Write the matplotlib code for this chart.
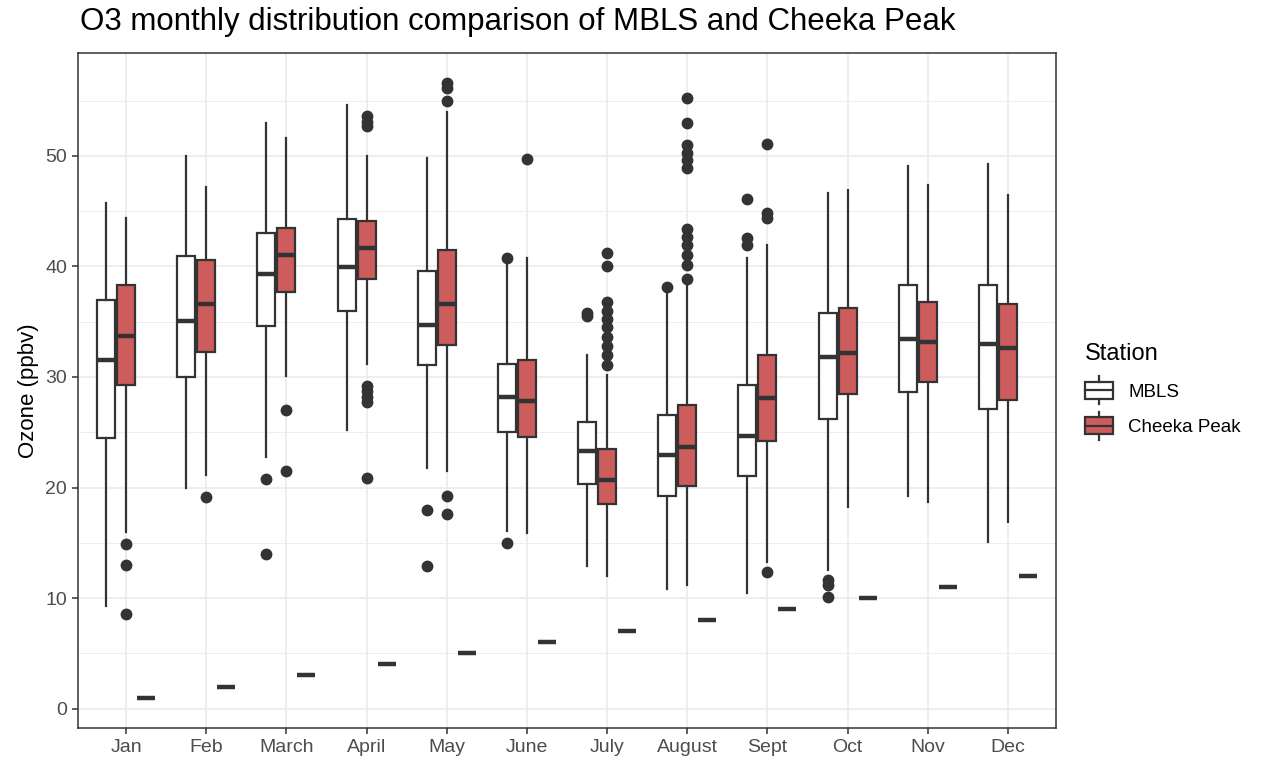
import matplotlib
matplotlib.use("Agg")
import matplotlib.pyplot as plt
from matplotlib.patches import Rectangle
from matplotlib.lines import Line2D
from matplotlib.legend_handler import HandlerBase

plt.rcParams['font.family'] = ['Liberation Sans', 'DejaVu Sans']

months = ["Jan", "Feb", "March", "April", "May", "June", "July", "August",
          "Sept", "Oct", "Nov", "Dec"]

# MBLS box stats
mbls_lo = [9.3, 20.0, 22.8, 25.2, 21.8, 16.1, 12.9, 10.8, 10.5, 12.5, 19.2, 15.1]
mbls_q1 = [24.5, 30.0, 34.6, 36.0, 31.1, 25.0, 20.3, 19.2, 21.0, 26.2, 28.6, 27.1]
mbls_med = [31.5, 35.1, 39.3, 39.9, 34.7, 28.2, 23.3, 22.9, 24.7, 31.8, 33.4, 33.0]
mbls_q3 = [37.0, 40.9, 43.0, 44.3, 39.6, 31.2, 25.9, 26.6, 29.3, 35.8, 38.3, 38.3]
mbls_hi = [45.7, 50.0, 53.0, 54.6, 49.8, 40.3, 32.0, 37.7, 40.8, 46.6, 49.1, 49.3]
mbls_out = [[], [], [20.8, 14.0], [], [18.0, 12.9], [40.8, 15.0], [35.8, 35.5],
            [38.1], [46.1, 42.6, 41.9], [11.6, 11.2, 10.1], [], []]

# Cheeka Peak box stats
chk_lo = [16.0, 21.1, 30.1, 31.2, 21.5, 15.9, 12.0, 11.2, 13.3, 18.2, 18.7, 16.9]
chk_q1 = [29.3, 32.3, 37.7, 38.9, 32.9, 24.6, 18.5, 20.1, 24.2, 28.5, 29.5, 27.9]
chk_med = [33.7, 36.6, 41.0, 41.7, 36.6, 27.8, 20.7, 23.7, 28.1, 32.2, 33.2, 32.6]
chk_q3 = [38.3, 40.6, 43.5, 44.1, 41.5, 31.5, 23.5, 27.5, 32.0, 36.2, 36.8, 36.6]
chk_hi = [44.4, 47.2, 51.6, 50.0, 54.0, 40.8, 30.2, 38.6, 41.9, 46.9, 47.4, 46.5]
chk_out = [[14.9, 13.0, 8.6], [19.1], [27.0, 21.5],
           [53.6, 53.1, 52.7, 29.2, 28.7, 28.2, 27.7, 20.9],
           [56.6, 56.1, 55.0, 19.2, 17.6], [49.7],
           [41.2, 40.0, 36.8, 36.0, 35.2, 34.5, 33.6, 32.8, 32.0, 31.1],
           [55.2, 53.0, 51.0, 50.3, 49.6, 48.9, 43.4, 42.7, 41.9, 41.0, 40.1, 38.9],
           [51.1, 44.8, 44.4, 12.4], [], [], []]

# month number column that got plotted as a third group
month_num = [1, 2, 3, 4, 5, 6, 7, 8, 9, 10, 11, 12]

LINE = "#333333"
RED = "#CD5C5C"


def stats(lo, q1, med, q3, hi, out):
    return [dict(whislo=a, q1=b, med=c, q3=d, whishi=e, fliers=f)
            for a, b, c, d, e, f in zip(lo, q1, med, q3, hi, out)]


fig = plt.figure(figsize=(12.61, 7.61), dpi=100)
ax = fig.add_axes([78 / 1261, 1 - 728 / 761, (1056 - 78) / 1261, (728 - 53) / 761])

x = list(range(1, 13))
w = 0.225
common = dict(widths=w, patch_artist=True, manage_ticks=False,
              whiskerprops=dict(color=LINE, lw=1.6),
              capprops=dict(visible=False),
              medianprops=dict(color=LINE, lw=3.2, solid_capstyle="butt"),
              flierprops=dict(marker="o", markerfacecolor=LINE, markeredgecolor=LINE,
                              markersize=7.5, linestyle="none"))

ax.bxp(stats(mbls_lo, mbls_q1, mbls_med, mbls_q3, mbls_hi, mbls_out),
       positions=[p - 0.25 for p in x],
       boxprops=dict(facecolor="white", edgecolor=LINE, lw=1.6), **common)
ax.bxp(stats(chk_lo, chk_q1, chk_med, chk_q3, chk_hi, chk_out),
       positions=x,
       boxprops=dict(facecolor=RED, edgecolor=LINE, lw=1.6), **common)
ax.bxp(stats(month_num, month_num, month_num, month_num, month_num,
             [[] for _ in month_num]),
       positions=[p + 0.25 for p in x],
       boxprops=dict(facecolor="grey", edgecolor=LINE, lw=1.6), **common)

ax.set_xlim(0.4, 12.6)
ax.set_ylim(-1.75, 59.3)
ax.set_xticks(x)
ax.set_xticklabels(months)
ax.set_yticks([0, 10, 20, 30, 40, 50])
ax.set_yticks([5, 15, 25, 35, 45, 55], minor=True)
ax.grid(True, which="major", color="#EBEBEB", lw=1.2)
ax.grid(True, which="minor", axis="y", color="#EBEBEB", lw=0.6)
ax.set_axisbelow(True)
ax.tick_params(axis="both", which="major", length=4, width=1.1, color=LINE,
               labelsize=14, labelcolor="#4D4D4D", pad=4)
ax.tick_params(axis="y", which="minor", length=0)
for s in ax.spines.values():
    s.set_color("#333333")
    s.set_linewidth(1.1)

ax.set_ylabel("Ozone (ppbv)", fontsize=16, color="black", labelpad=4)
fig.text(80 / 1261, 1 - 22 / 761, "O3 monthly distribution comparison of MBLS and Cheeka Peak",
         fontsize=22.5, ha="left", va="center")


class BoxHandler(HandlerBase):
    def __init__(self, face):
        super().__init__()
        self.face = face

    def create_artists(self, legend, orig_handle, xdescent, ydescent, width, height,
                       fontsize, trans):
        cx = width / 2 - xdescent
        bw = width
        rect = Rectangle((cx - bw / 2, -ydescent + height * 0.05), bw, height * 0.9,
                         facecolor=self.face, edgecolor=LINE, lw=1.6, transform=trans)
        med = Line2D([cx - bw / 2, cx + bw / 2], [-ydescent + height / 2] * 2,
                     color=LINE, lw=1.6, transform=trans)
        top = Line2D([cx, cx], [-ydescent + height * 0.95, -ydescent + height * 1.25],
                     color=LINE, lw=1.6, transform=trans)
        bot = Line2D([cx, cx], [-ydescent - height * 0.25, -ydescent + height * 0.05],
                     color=LINE, lw=1.6, transform=trans)
        return [rect, med, top, bot]


h1 = Rectangle((0, 0), 1, 1)
h2 = Rectangle((0, 0), 1, 1)
leg = fig.legend([h1, h2], ["MBLS", "Cheeka Peak"], title="Station",
                 handler_map={h1: BoxHandler("white"), h2: BoxHandler(RED)},
                 loc="upper left", bbox_to_anchor=(1085 / 1261, 1 - 343 / 761),
                 frameon=False, fontsize=13.5, title_fontsize=17,
                 handlelength=1.5, handleheight=1.15, labelspacing=0.85,
                 handletextpad=0.8, borderaxespad=0, borderpad=0)
leg._legend_box.align = "left"

fig.savefig("out.png", dpi=100)
